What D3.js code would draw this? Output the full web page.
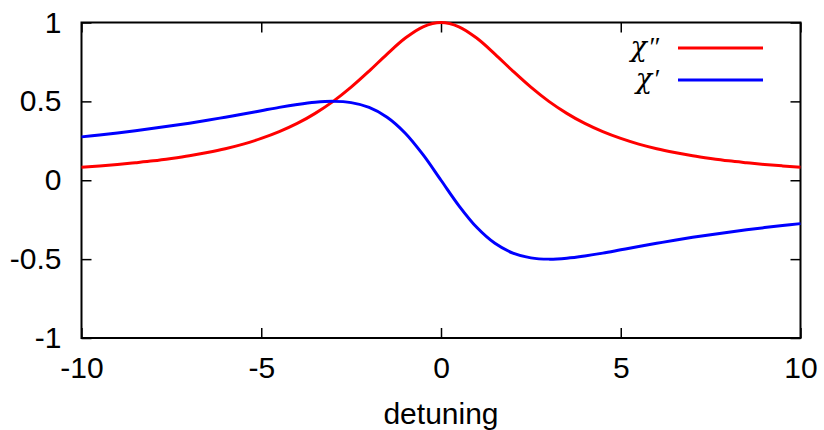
<!DOCTYPE html>
<html>
<head>
<meta charset="utf-8">
<script src="https://cdn.jsdelivr.net/npm/d3@7"></script>
<style>
  body { margin: 0; background: #fff; }
  svg text { font-family: "Liberation Sans", Arial, Helvetica, sans-serif; }
</style>
</head>
<body>
<svg id="chart"></svg>
<script>
// values
var detuning = [-10,-9.5,-9,-8.5,-8,-7.5,-7,-6.5,-6,-5.5,-5,-4.5,-4,-3.5,-3,-2.5,-2,-1.5,-1,-0.5,
  0,0.5,1,1.5,2,2.5,3,3.5,4,4.5,5,5.5,6,6.5,7,7.5,8,8.5,9,9.5,10];
var chiImag = [0.083,0.091,0.100,0.111,0.123,0.138,0.155,0.176,0.200,0.229,0.265,0.308,0.360,0.424,0.500,0.590,0.692,0.800,0.900,0.973,
  1.000,0.973,0.900,0.800,0.692,0.590,0.500,0.424,0.360,0.308,0.265,0.229,0.200,0.176,0.155,0.138,0.123,0.111,0.100,0.091,0.083];
var chiReal = [0.275,0.287,0.300,0.314,0.329,0.345,0.362,0.380,0.400,0.420,0.441,0.462,0.480,0.494,0.500,0.492,0.462,0.400,0.300,0.162,
  0.000,-0.162,-0.300,-0.400,-0.462,-0.492,-0.500,-0.494,-0.480,-0.462,-0.441,-0.420,-0.400,-0.380,-0.362,-0.345,-0.329,-0.314,-0.300,-0.287,-0.275];
var xTicks = [-10,-5,0,5,10];
var yTicks = [-1,-0.5,0,0.5,1];
var seriesSymbol = ["\u03C7","\u03C7"];
var seriesPrimes = ["\u2033","\u2032"];
var seriesColors = ["#ff0000","#0000ff"];

var screen = {width:824, height:430}
var margins = {top:22.5, right:23.5, bottom:92, left:81.5}
var w = screen.width - margins.left - margins.right
var h = screen.height - margins.top - margins.bottom

var svg = d3.select("#chart")
  .attr("width", screen.width)
  .attr("height", screen.height)

var x = d3.scaleLinear().domain([-10,10]).range([margins.left, margins.left + w])
var y = d3.scaleLinear().domain([-1,1]).range([margins.top + h, margins.top])

// plain hyphen for negatives, like the reference
var fmt = function(d){ return String(d); }

// ticks point inward, mirrored on all four sides
var tickLen = 10
svg.append("g").attr("transform","translate(0,"+(margins.top+h)+")")
  .call(d3.axisBottom(x).tickValues(xTicks).tickSize(-tickLen).tickPadding(19).tickFormat(fmt))
  .call(function(g){ g.select(".domain").remove(); })
  .selectAll("text").style("font-size","30px").attr("dy","0.71em")
svg.append("g").attr("transform","translate(0,"+margins.top+")")
  .call(d3.axisTop(x).tickValues(xTicks).tickSize(-tickLen).tickFormat(""))
  .call(function(g){ g.select(".domain").remove(); })
svg.append("g").attr("transform","translate("+margins.left+",0)")
  .call(d3.axisLeft(y).tickValues(yTicks).tickSize(-tickLen).tickPadding(20).tickFormat(fmt))
  .call(function(g){ g.select(".domain").remove(); })
  .selectAll("text").style("font-size","30px")
svg.append("g").attr("transform","translate("+(margins.left+w)+",0)")
  .call(d3.axisRight(y).tickValues(yTicks).tickSize(-tickLen).tickFormat(""))
  .call(function(g){ g.select(".domain").remove(); })

svg.selectAll(".tick line").attr("stroke","#000").attr("stroke-width",1.5)
svg.selectAll(".tick text").attr("fill","#000")

// frame
svg.append("rect")
  .attr("x", margins.left).attr("y", margins.top)
  .attr("width", w).attr("height", h)
  .attr("fill","none").attr("stroke","#000").attr("stroke-width",2)

// curves
var line = function(vals){
  return d3.line()
    .x(function(d,i){ return x(detuning[i]); })
    .y(function(d){ return y(d); })
    .curve(d3.curveCatmullRom)(vals)
}
var allSeries = [chiImag, chiReal]
svg.append("g").selectAll("path").data(allSeries).enter()
  .append("path")
  .attr("d", line)
  .attr("fill","none")
  .attr("stroke", function(d,i){ return seriesColors[i]; })
  .attr("stroke-width",3)

// legend
var legend = svg.append("g")
seriesSymbol.forEach(function(sym,i){
  var ly = 48 + i*32
  var t = legend.append("text")
    .attr("x", 659).attr("y", ly)
    .attr("text-anchor","end").attr("dy","0.3em")
    .style("font-family","'DejaVu Serif', 'Liberation Serif', serif")
    .style("font-style","italic")
    .style("font-size","27px")
  t.append("tspan").text(sym)
  t.append("tspan").attr("dx", 1).style("font-family","'Liberation Serif', serif")
    .style("font-size","27px").text(seriesPrimes[i])
  legend.append("line")
    .attr("x1",678).attr("x2",763)
    .attr("y1",ly).attr("y2",ly)
    .attr("stroke",seriesColors[i]).attr("stroke-width",3)
})

// axis label
svg.append("text")
  .attr("x", margins.left + w/2).attr("y", 424)
  .attr("text-anchor","middle")
  .style("font-size","30px")
  .text("detuning")
</script>
</body>
</html>
